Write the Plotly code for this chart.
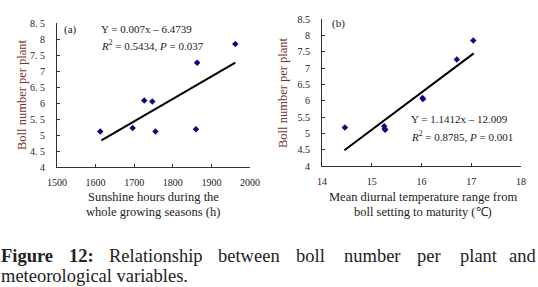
import plotly.graph_objects as go

# Data
sun_hours = [1612, 1696, 1726, 1747, 1755, 1860, 1863, 1962]
temp_range = [14.46, 15.25, 15.27, 16.02, 15.26, 16.03, 16.71, 17.04]
bolls_a = [5.11, 5.22, 6.08, 6.05, 5.11, 5.18, 7.26, 7.84]
bolls_b = [5.18, 5.22, 5.11, 6.08, 5.13, 6.05, 7.26, 7.84]

fit_a_x = [1615, 1962]
fit_a_y = [0.007 * x - 6.4739 for x in fit_a_x]
fit_b_x = [14.45, 17.05]
fit_b_y = [1.1412 * x - 12.009 for x in fit_b_x]

y_ticks = [4, 4.5, 5, 5.5, 6, 6.5, 7, 7.5, 8, 8.5]
y_ticktext_a = ["4", "4. 5", "5", "5. 5", "6", "6. 5", "7", "7. 5", "8", "8. 5"]
y_ticktext_b = ["4", "4.5", "5", "5.5", "6", "6.5", "7", "7.5", "8", "8.5"]
x_ticks_a = [1500, 1600, 1700, 1800, 1900, 2000]
x_ticks_b = [14, 15, 16, 17, 18]

W, H = 538, 287
marker = dict(symbol="diamond", size=5, color="#0a0a80")
fig = go.Figure()
fig.add_trace(go.Scatter(x=sun_hours, y=bolls_a, mode="markers", marker=marker, xaxis="x", yaxis="y"))
fig.add_trace(go.Scatter(x=fit_a_x, y=fit_a_y, mode="lines", line=dict(color="black", width=2), xaxis="x", yaxis="y"))
fig.add_trace(go.Scatter(x=temp_range, y=bolls_b, mode="markers", marker=marker, xaxis="x2", yaxis="y2"))
fig.add_trace(go.Scatter(x=fit_b_x, y=fit_b_y, mode="lines", line=dict(color="black", width=2), xaxis="x2", yaxis="y2"))

tickfont = dict(family="Liberation Serif", size=10, color="#222")
axis_common = dict(showline=True, linecolor="#333", linewidth=1, ticks="inside", ticklen=3,
                   tickcolor="#333", showgrid=False, zeroline=False, tickfont=tickfont,
                   automargin=False)

def px(x): return x / W
def py(y): return 1 - y / H

fig.update_layout(
    width=W, height=H, margin=dict(l=0, r=0, t=0, b=0, pad=0),
    paper_bgcolor="white", plot_bgcolor="white", showlegend=False,
    xaxis=dict(domain=[px(57), px(250)], range=[1500, 2000], tickvals=x_ticks_a,
               anchor="y", ticklabelstandoff=6, **axis_common),
    yaxis=dict(domain=[py(167), py(23)], range=[4, 8.5], tickvals=y_ticks, ticktext=y_ticktext_a,
               anchor="x", ticklabelstandoff=9, **axis_common),
    xaxis2=dict(domain=[px(322), px(521)], range=[14, 18], tickvals=x_ticks_b,
                anchor="y2", ticklabelstandoff=6, **axis_common),
    yaxis2=dict(domain=[py(166), py(19)], range=[4, 8.5], tickvals=y_ticks, ticktext=y_ticktext_b,
                anchor="x2", ticklabelstandoff=9, **axis_common),
)

ann = []
def text(x, y, s, size=12, color="#222", xanchor="center", angle=0, family="Liberation Serif"):
    ann.append(dict(x=px(x), y=py(y), xref="paper", yref="paper", text=s, showarrow=False,
                    xanchor=xanchor, yanchor="middle", textangle=angle, borderpad=0,
                    font=dict(family=family, size=size, color=color)))

title_col = "#7a3526"
text(22, 95, "Boll number per plant", size=12.5, color=title_col, angle=-90)
text(283, 93, "Boll number per plant", size=12.5, color=title_col, angle=-90)
text(153, 197, "Sunshine hours during the", size=12.5)
text(153, 212, "whole growing seasons (h)", size=12.5)
text(423, 197, "Mean diurnal temperature range from", size=12.5)
text(423, 212, "boll setting to maturity (℃)", size=12.5)

text(63, 29, "(a)", size=11, xanchor="left")
text(100, 29, "Y = 0.007x – 6.4739", size=11, xanchor="left")
text(100, 45, "<i>R</i><sup>2</sup> = 0.5434, <i>P</i> = 0.037", size=11, xanchor="left")
text(331, 24, "(b)", size=11, xanchor="left")
text(410, 119, "Y = 1.1412x – 12.009", size=11, xanchor="left")
text(410, 136, "<i>R</i><sup>2</sup> = 0.8785, <i>P</i> = 0.001", size=11, xanchor="left")

cap_size = 18.5
cap_words = [(0, "<b>Figure</b>"), (68, "<b>12:</b>"), (108, "Relationship"), (217, "between"),
             (295, "boll"), (343, "number"), (416, "per"), (459, "plant")]
for x, w in cap_words:
    text(x, 256, w, size=cap_size, xanchor="left")
text(537, 256, "and", size=cap_size, xanchor="right")
text(0, 276, "meteorological variables.", size=cap_size, xanchor="left")

fig.update_layout(annotations=ann)
fig.write_html("out.html", config={"displayModeBar": False},
               post_script="document.body.style.margin='0';document.body.style.overflow='hidden';")
